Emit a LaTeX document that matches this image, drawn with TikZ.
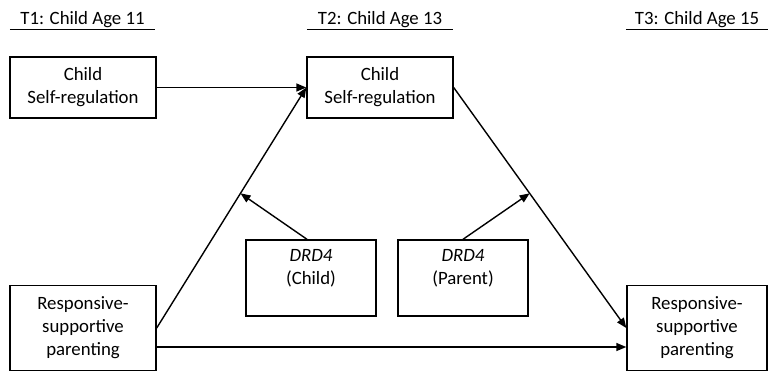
\documentclass[tikz,border=0pt]{standalone}
\usepackage{fontspec}
\setmainfont{Carlito}
\usetikzlibrary{arrows.meta,calc}
\begin{document}
\begin{tikzpicture}[x=1pt,y=-1pt,
  box/.style={draw,line width=1.4pt,align=center,inner sep=0pt,
    font=\fontsize{18.8}{23}\selectfont},
  hdr/.style={inner xsep=0pt,inner ysep=0pt,anchor=base,
    font=\fontsize{18.8}{23}\selectfont},
  uline/.style={line width=1.4pt},
  conn/.style={line width=1.4pt,-{Triangle[length=10pt,width=8pt]}}]
\useasboundingbox (0,0) rectangle (768,376);
% headers
\node[hdr,minimum width=145] (h1) at (82.5,24) {T1: Child Age 11};
\node[hdr,minimum width=146] (h2) at (380,24) {T2: Child Age 13};
\node[hdr,minimum width=142] (h3) at (697,24) {T3: Child Age 15};
\foreach \h in {h1,h2,h3}
  \draw[uline] ([yshift=-5.5pt]\h.base west) -- ([yshift=-5.5pt]\h.base east);
% boxes
\node[box,minimum width=146,minimum height=61] (c1) at (83,87.5) {Child\\Self-regulation};
\node[box,minimum width=146,minimum height=61] (c2) at (380,87.5) {Child\\Self-regulation};
\node[box,minimum width=146,minimum height=85] (p1) at (83,328) {Responsive-\\supportive\\parenting};
\node[box,minimum width=140,minimum height=85] (p3) at (697,328) {Responsive-\\supportive\\parenting};
\node[box,minimum width=130,minimum height=76] (d1) at (311,278) {\textit{DRD4}\\(Child)\\\mbox{}};
\node[box,minimum width=130,minimum height=76] (d2) at (463,278) {\textit{DRD4}\\(Parent)\\\mbox{}};
% connectors
\draw[conn] (c1.east) -- (c2.west);
\draw[conn] (p1.east) -- (c2.west);
\draw[conn] (c2.east) -- (p3.west);
\draw[conn] ([yshift=-19pt]p1.east) -- ([yshift=-19pt]p3.west);
\coordinate (m1) at ($(p1.east)!0.56!(c2.west)$);
\coordinate (m2) at ($(c2.east)!0.44!(p3.west)$);
\draw[conn] ([xshift=-4pt]d1.north) -- (m1);
\draw[conn] (d2.north) -- (m2);
\end{tikzpicture}
\end{document}
